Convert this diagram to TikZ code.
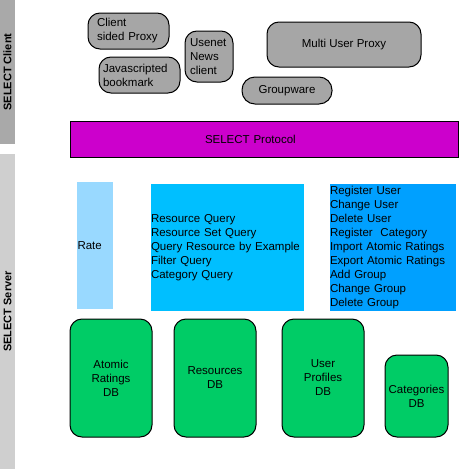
\documentclass[tikz,border=0pt]{standalone}
\usepackage{fontspec}
\setmainfont{Liberation Sans}
\definecolor{cbarA}{HTML}{A9A9A9}
\definecolor{cbarB}{HTML}{CFCFCF}
\definecolor{cgray}{HTML}{A6A6A6}
\definecolor{cmag}{HTML}{CC00CC}
\definecolor{crate}{HTML}{99D9FF}
\definecolor{cquery}{HTML}{00BFFF}
\definecolor{creg}{HTML}{00A0FF}
\definecolor{cgreen}{HTML}{00CC66}
\begin{document}
\begin{tikzpicture}[x=1pt,y=-1pt,
  every node/.style={font=\fontsize{11.5}{14}\selectfont, text=black},
  sidebar/.style={rotate=90, minimum height=15pt, inner sep=0pt, font=\fontsize{11}{13}\selectfont\bfseries},
  graybox/.style={draw=black, line width=1pt, fill=cgray, rounded corners=12pt, align=left},
  bluebox/.style={inner ysep=0pt, align=left},
  dbbox/.style={draw=black, line width=1pt, fill=cgreen, rounded corners=12pt, align=center, inner sep=2pt}]
\useasboundingbox (0,0) rectangle (459,469);
% side bars
\node[sidebar, fill=cbarA, minimum width=144pt] (client) at (7.5,72) {SELECT Client};
\node[sidebar, fill=cbarB, minimum width=315pt] (server) at (7.5,311.5) {SELECT Server};
% client nodes
\node[graybox, minimum height=36pt, inner xsep=9pt, text width=63pt] (csp) at (128.5,31) {Client\\sided Proxy};
\node[graybox, minimum height=36pt, inner xsep=4pt, text width=73pt] (jsb) at (139.5,75) {Javascripted\\bookmark};
\node[graybox, minimum height=51pt, inner xsep=5pt, text width=38pt] (unc) at (209,56.5) {Usenet\\News\\client};
\node[graybox, minimum height=45pt, minimum width=154pt, align=center] (mup) at (344,44.5) {Multi User Proxy};
\node[graybox, rounded corners=13pt, minimum height=27pt, minimum width=90pt, align=center] (gw) at (287,90.5) {Groupware};
% protocol
\node[draw=black, line width=1pt, fill=cmag, minimum height=36pt, inner xsep=135pt, text width=118pt, align=left, inner ysep=0pt] (proto) at (264,139) {SELECT Protocol};
% server boxes
\node[bluebox, fill=crate, minimum height=127pt, inner xsep=0.5pt, text width=35pt] (rate) at (95,245.5) {Rate};
\node[bluebox, fill=cquery, minimum height=127pt, inner xsep=0pt, text width=153pt] (query) at (227.5,247.5) {Resource Query\\Resource Set Query\\Query Resource by Example\\Filter Query\\Category Query};
\node[bluebox, fill=creg, minimum height=127pt, inner xsep=0pt, text width=126pt] (reg) at (393,247.5) {Register User\\Change User\\Delete User\\Register\ \ Category\\Import Atomic Ratings\\Export Atomic Ratings\\Add Group\\Change Group\\Delete Group};
% databases
\node[dbbox, minimum width=82pt, minimum height=118pt] (ardb) at (111,378) {Atomic\\Ratings\\DB};
\node[dbbox, minimum width=82pt, minimum height=118pt] (resdb) at (215,378) {Resources\\DB};
\node[dbbox, minimum width=82pt, minimum height=118pt] (updb) at (323,378) {User\\Profiles\\DB};
\node[dbbox, minimum width=63pt, minimum height=82pt] (catdb) at (416.5,396) {Categories\\DB};
\end{tikzpicture}
\end{document}
